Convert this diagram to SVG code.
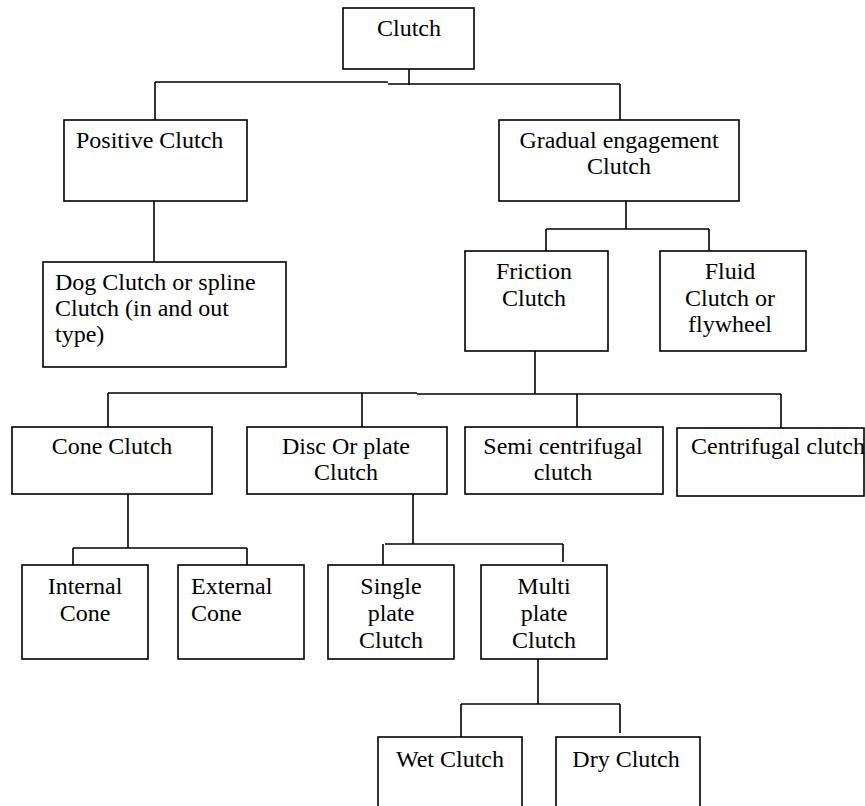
<svg xmlns="http://www.w3.org/2000/svg" width="865" height="806" viewBox="0 0 865 806">
<style>
.box{fill:#fff;stroke:#000;stroke-width:1.6}
.ln{fill:none;stroke:#000;stroke-width:1.6}
text{font-family:"Liberation Serif","Times New Roman",serif;font-size:24px;fill:#000}
.c{text-anchor:middle}
</style>
<rect width="865" height="806" fill="#fff"/>
<g id="connectors">
<path class="ln" d="M409 69V85M155 82H388M388 84H620M155 82V120M620 84V120"/>
<path class="ln" d="M154 201V262"/>
<path class="ln" d="M626 201V229M546 229H709M546 229V251M709 229V251"/>
<path class="ln" d="M535 351V394M108 393H417M417 394H781M108 393V428M362 393V427M577 394V427M781 394V428"/>
<path class="ln" d="M128 494V548M73 548H247M73 548V565M247 548V565"/>
<path class="ln" d="M413 494V544M385 544H563M383 544V565M563 544V562"/>
<path class="ln" d="M538 659V704M461 704H620M461 704V737M620 704V733"/>
</g>
<g id="clutch"><rect class="box" x="343" y="8" width="131" height="61"/><text class="c" x="409" y="36">Clutch</text></g>
<g id="positive"><rect class="box" x="64" y="120" width="183" height="81"/><text x="76" y="148">Positive Clutch</text></g>
<g id="gradual"><rect class="box" x="499" y="120" width="240" height="81"/><text class="c" x="619" y="148">Gradual engagement</text><text class="c" x="619" y="174">Clutch</text></g>
<g id="dog"><rect class="box" x="43" y="262" width="243" height="105"/><text x="55" y="290">Dog Clutch or spline</text><text x="55" y="316">Clutch (in and out</text><text x="55" y="342">type)</text></g>
<g id="friction"><rect class="box" x="465" y="251" width="143" height="100"/><text class="c" x="534" y="279">Friction</text><text class="c" x="534" y="306">Clutch</text></g>
<g id="fluid"><rect class="box" x="660" y="251" width="146" height="100"/><text class="c" x="730" y="279">Fluid</text><text class="c" x="730" y="306">Clutch or</text><text class="c" x="730" y="332">flywheel</text></g>
<g id="cone"><rect class="box" x="12" y="427" width="200" height="67"/><text class="c" x="112" y="454">Cone Clutch</text></g>
<g id="disc"><rect class="box" x="247" y="427" width="200" height="67"/><text class="c" x="346" y="454">Disc Or plate</text><text class="c" x="346" y="480">Clutch</text></g>
<g id="semi"><rect class="box" x="465" y="427" width="198" height="67"/><text class="c" x="563" y="454">Semi centrifugal</text><text class="c" x="563" y="480">clutch</text></g>
<g id="centrifugal"><rect class="box" x="677" y="428" width="187" height="68"/><text x="691" y="454">Centrifugal clutch</text></g>
<g id="internal"><rect class="box" x="22" y="565" width="126" height="94"/><text class="c" x="85" y="594">Internal</text><text class="c" x="85" y="621">Cone</text></g>
<g id="external"><rect class="box" x="178" y="565" width="126" height="94"/><text x="191" y="594">External</text><text x="191" y="621">Cone</text></g>
<g id="single"><rect class="box" x="328" y="565" width="126" height="94"/><text class="c" x="391" y="594">Single</text><text class="c" x="391" y="621">plate</text><text class="c" x="391" y="648">Clutch</text></g>
<g id="multi"><rect class="box" x="481" y="565" width="126" height="94"/><text class="c" x="544" y="594">Multi</text><text class="c" x="544" y="621">plate</text><text class="c" x="544" y="648">Clutch</text></g>
<g id="wet"><rect class="box" x="378" y="737" width="144" height="80"/><text class="c" x="450" y="767">Wet Clutch</text></g>
<g id="dry"><rect class="box" x="556" y="737" width="144" height="80"/><text class="c" x="626" y="767">Dry Clutch</text></g>
</svg>
